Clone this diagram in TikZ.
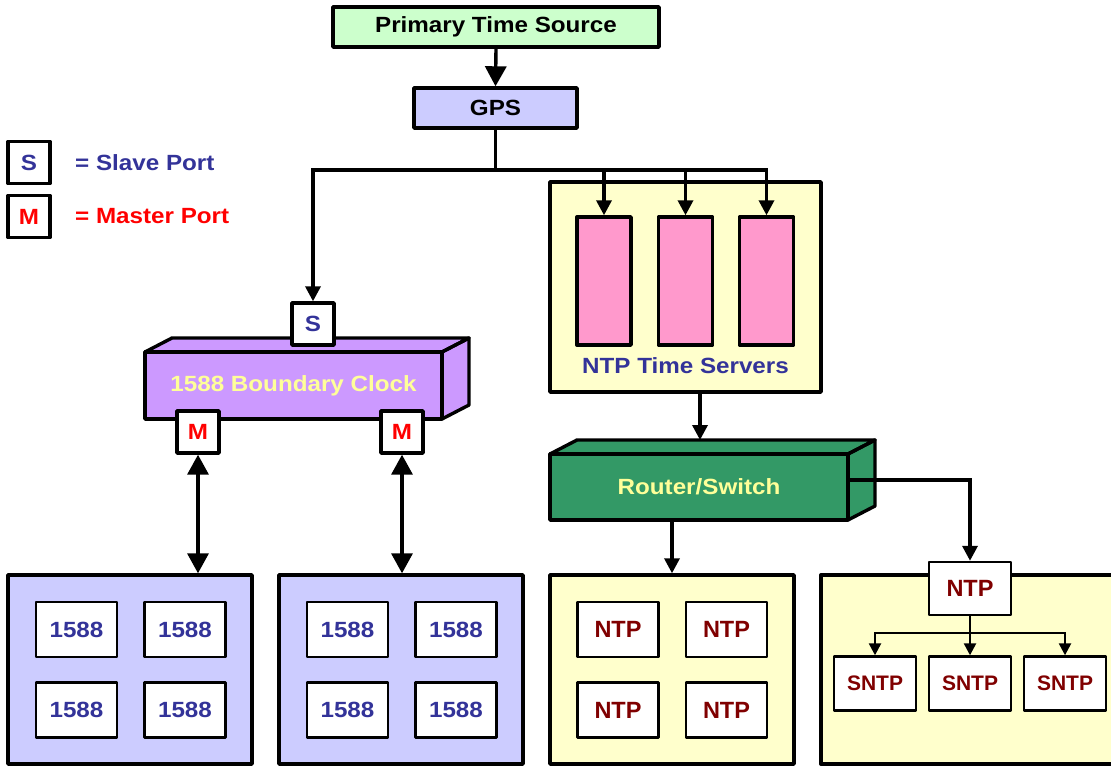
\documentclass[tikz,border=0pt]{standalone}
\usepackage{fontspec}
\setmainfont{Liberation Sans}
\newfontfamily\widesans[FakeStretch=1.1]{Liberation Sans}
\usetikzlibrary{arrows.meta}

\definecolor{srcgreen}{HTML}{CCFFCC}
\definecolor{lavender}{HTML}{CCCCFF}
\definecolor{paleyellow}{HTML}{FFFFCC}
\definecolor{pinkfill}{HTML}{FF99CC}
\definecolor{violet}{HTML}{CC99FF}
\definecolor{seagreen}{HTML}{339966}
\definecolor{labelyellow}{HTML}{FFFF99}
\definecolor{navy}{HTML}{333399}
\definecolor{maroon}{HTML}{800000}
\definecolor{portred}{HTML}{FF0000}

\tikzset{
  wfont/.style={font=\widesans\bfseries\fontsize{22}{25}\selectfont},
  box/.style={draw, line width=3.4pt, line join=round, inner sep=0pt},
  unit/.style={draw, line width=2.4pt, line join=round, fill=white, inner sep=0pt,
               minimum width=81pt, minimum height=55pt},
  port/.style={box, fill=white, minimum width=42pt, minimum height=42pt, wfont},
  face/.style={draw, line width=3.4pt, line join=round},
  wire/.style={line width=3.4pt},
  bigarrow/.style={wire, -{Triangle[length=20pt,width=21pt]}},
  arrow/.style={wire, -{Triangle[length=15pt,width=15pt]}},
  twoway/.style={wire, {Triangle[length=20pt,width=21pt]}-{Triangle[length=20pt,width=21pt]}},
  thinarrow/.style={line width=2.4pt, -{Triangle[length=12pt,width=12pt]}},
}

\begin{document}
\begin{tikzpicture}[x=1pt,y=-1pt]
\path[use as bounding box] (0,0) rectangle (1111,767);
\clip (0,0) rectangle (1111,767);

% legend
\node[port, text=navy] (legS) at (29,162.5) {S};
\node[port, text=portred] (legM) at (29,216.5) {M};
\node[wfont, text=navy, anchor=west, inner sep=0pt] (legStxt) at (75,162.5) {= Slave Port};
\node[wfont, text=portred, anchor=west, inner sep=0pt] (legMtxt) at (75,216.5) {= Master Port};

% time source chain
\node[box, fill=srcgreen, minimum width=326pt, minimum height=40pt, wfont] (pts) at (496,27) {Primary Time Source};
\node[box, fill=lavender, minimum width=163pt, minimum height=40pt, wfont] (gps) at (495.5,108) {GPS};

% NTP time servers
\node[box, fill=paleyellow, minimum width=271pt, minimum height=210pt] (ntpsrv) at (685.5,287) {};
\node[box, fill=pinkfill, minimum width=54pt, minimum height=128pt] (p1) at (604,281) {};
\node[box, fill=pinkfill, minimum width=54pt, minimum height=128pt] (p2) at (685.5,281) {};
\node[box, fill=pinkfill, minimum width=54pt, minimum height=128pt] (p3) at (766.5,281) {};
\node[wfont, text=navy, inner sep=0pt] (srvlabel) at (685.5,366) {NTP Time Servers};

% boundary clock (3D block)
\coordinate (bcnw) at (145,352);
\coordinate (bcne) at (442,352);
\coordinate (bcse) at (442,419);
\fill[violet] (bcnw) -- ++(27,-14) -- ([shift={(27,-14)}]bcne) -- ([shift={(27,-14)}]bcse) -- (bcse) -- cycle;
\draw[face] (bcnw) -- ++(27,-14) -- ([shift={(27,-14)}]bcne) -- (bcne) -- cycle;
\draw[face] (bcne) -- ([shift={(27,-14)}]bcne) -- ([shift={(27,-14)}]bcse) -- (bcse) -- cycle;
\node[box, fill=violet, minimum width=297pt, minimum height=67pt, wfont, text=labelyellow] (bc) at (293.5,385.5) {1588 Boundary Clock};
\node[port, text=navy] (sport) at (313,324) {S};
\node[port, text=portred] (m1) at (198,432) {M};
\node[port, text=portred] (m2) at (402,432) {M};

% router / switch (3D block)
\coordinate (rnw) at (550,454);
\coordinate (rne) at (848,454);
\coordinate (rse) at (848,520);
\fill[seagreen] (rnw) -- ++(27,-14) -- ([shift={(27,-14)}]rne) -- ([shift={(27,-14)}]rse) -- (rse) -- cycle;
\draw[face] (rnw) -- ++(27,-14) -- ([shift={(27,-14)}]rne) -- (rne) -- cycle;
\draw[face] (rne) -- ([shift={(27,-14)}]rne) -- ([shift={(27,-14)}]rse) -- (rse) -- cycle;
\node[box, fill=seagreen, minimum width=298pt, minimum height=66pt, wfont, text=labelyellow] (router) at (699,487) {Router/Switch};
\coordinate (rtop) at (700,440);

% 1588 slave groups
\node[box, fill=lavender, minimum width=244pt, minimum height=189pt] (g1) at (130,669.5) {};
\node[box, fill=lavender, minimum width=244pt, minimum height=189pt] (g2) at (401,669.5) {};
\foreach \gx/\gn in {76.5/a, 185/b} {
  \node[unit, wfont, text=navy] (g1\gn1) at (\gx,629.5) {1588};
  \node[unit, wfont, text=navy] (g1\gn2) at (\gx,710) {1588};
}
\foreach \gx/\gn in {347.5/a, 456/b} {
  \node[unit, wfont, text=navy] (g2\gn1) at (\gx,629.5) {1588};
  \node[unit, wfont, text=navy] (g2\gn2) at (\gx,710) {1588};
}

% NTP client group
\node[box, fill=paleyellow, minimum width=244pt, minimum height=189pt] (g3) at (672,669.5) {};
\foreach \gx/\gn in {618/a, 726.5/b} {
  \node[unit, font=\bfseries\fontsize{23.5}{26}\selectfont, text=maroon] (g3\gn1) at (\gx,629.5) {NTP};
  \node[unit, font=\bfseries\fontsize{23.5}{26}\selectfont, text=maroon] (g3\gn2) at (\gx,710) {NTP};
}

% NTP / SNTP group
\node[box, fill=paleyellow, minimum width=309pt, minimum height=189pt] (g4) at (975.5,669.5) {};
\node[unit, minimum width=82pt, minimum height=53pt, font=\bfseries\fontsize{23.5}{26}\selectfont, text=maroon] (ntp4) at (970,588.5) {NTP};
\node[unit, minimum width=82pt, minimum height=54pt, font=\bfseries\fontsize{21}{24}\selectfont, text=maroon] (s1) at (875,683.5) {SNTP};
\node[unit, minimum width=82pt, minimum height=54pt, font=\bfseries\fontsize{21}{24}\selectfont, text=maroon] (s2) at (970,683.5) {SNTP};
\node[unit, minimum width=82pt, minimum height=54pt, font=\bfseries\fontsize{21}{24}\selectfont, text=maroon] (s3) at (1065,683.5) {SNTP};

% connectors
\draw[bigarrow] (pts.south) -- (gps.north);
\coordinate (bus) at (495.5,170);
\draw[wire] (gps.south) -- (bus);
\draw[arrow] (bus) -| (sport.north);
\draw[arrow] (bus) -| (p1.north);
\draw[arrow] (bus) -| (p2.north);
\draw[arrow] (bus) -| (p3.north);
\draw[arrow] (ntpsrv.south -| rtop) -- (rtop);
\draw[arrow] (router.south -| g3.north) -- (g3.north);
\draw[arrow] ([yshift=7pt]router.east) -| (ntp4.north);
\draw[twoway] (m1.south) -- (m1.south |- g1.north);
\draw[twoway] (m2.south) -- (m2.south |- g2.north);
\coordinate (sbus) at (970,633);
\draw[line width=2.4pt] (ntp4.south) -- (sbus);
\draw[thinarrow] (sbus) -| (s1.north);
\draw[thinarrow] (sbus) -- (s2.north);
\draw[thinarrow] (sbus) -| (s3.north);
\end{tikzpicture}
\end{document}
